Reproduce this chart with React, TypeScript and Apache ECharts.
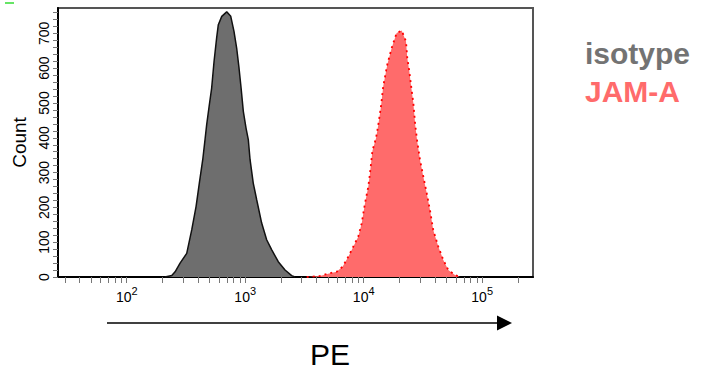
import React, { useEffect, useRef } from "react";
import * as echarts from "echarts";

// PE intensity (bin centre) and event counts for each stained sample
const isotypePE = [
  210, 240, 256, 282, 321, 354, 385, 410, 438, 458, 473, 498, 521, 546, 574, 593,
  634, 698, 755, 804, 847, 887, 923, 964, 1016, 1062, 1099, 1169, 1250, 1377, 1517,
  1675, 1901, 2168, 2466, 2630,
];
const isotypeCount = [
  0, 4, 15, 40, 68, 136, 203, 270, 337, 395, 438, 495, 543, 620, 687, 725,
  749, 762, 749, 706, 658, 600, 543, 476, 428, 395, 337, 270, 222, 155, 107,
  78, 44, 20, 4, 0,
];

const jamaPE = [
  3304, 4276, 5200, 5916, 6653, 7413, 8166, 8995, 9616, 10256, 10940, 11298, 11858,
  12706, 13274, 13996, 14622, 15812, 17219, 18967, 20941, 22751, 23335, 24266, 25061,
  26242, 27227, 28314, 29309, 29854, 31842, 34041, 36224, 38637, 42658, 46989, 51761,
  58884, 64863,
];
const jamaCount = [
  0, 3, 11, 15, 30, 58, 87, 116, 154, 212, 260, 298, 363,
  399, 437, 490, 548, 610, 658, 701, 708, 677, 629, 591, 552,
  500, 437, 389, 356, 337, 289, 241, 193, 135, 87, 49, 20,
  6, 0,
];

// Axis: decades shown as labels, intermediate decade steps as minor ticks
const decadeTicks = [100, 1000, 10000, 100000];
const minorPE = [
  30, 40, 50, 60, 70, 80, 90,
  200, 300, 400, 500, 600, 700, 800, 900,
  2000, 3000, 4000, 5000, 6000, 7000, 8000, 9000,
  20000, 30000, 40000, 50000, 60000, 70000, 80000, 90000,
  200000,
];
const countLabels = [0, 100, 200, 300, 400, 500, 600, 700];
const countTicks = Array.from({ length: 39 }, (_, i) => i * 20);

const PE_MIN = 26.3;
const PE_MAX = 268500;
const COUNT_MAX = 773;

const FONT = "Liberation Sans, Arial, sans-serif";

const toSeries = (pe: number[], counts: number[]) =>
  pe.map((v, i) => [Math.log10(v), counts[i]]);

export default function App() {
  const ref = useRef<HTMLDivElement>(null);

  useEffect(() => {
    if (!ref.current) return;
    const chart = echarts.init(ref.current, undefined, { renderer: "svg" });
    const lo = Math.log10(PE_MIN);
    const hi = Math.log10(PE_MAX);

    chart.setOption({
      animation: false,
      grid: {
        left: 58,
        top: 8,
        right: 168,
        bottom: 96,
        show: true,
        borderColor: "#555",
        borderWidth: 2,
        backgroundColor: "#fff",
      },
      xAxis: [
        {
          type: "value",
          min: lo,
          max: hi,
          position: "bottom",
          splitLine: { show: false },
          axisLine: { show: true, onZero: false, lineStyle: { color: "#000", width: 2 } },
          axisTick: {
            show: true,
            customValues: decadeTicks.map((v) => Math.log10(v)),
            length: 6,
            lineStyle: { color: "#777", width: 1 },
          },
          axisLabel: {
            customValues: decadeTicks.map((v) => Math.log10(v)),
            margin: 8,
            formatter: (v: number) => `{b|10}{s|${Math.round(v)}}`,
            rich: {
              b: { fontSize: 14, fontFamily: FONT, color: "#000", lineHeight: 19, verticalAlign: "bottom" },
              s: { fontSize: 11, fontFamily: FONT, color: "#000", lineHeight: 11, verticalAlign: "top" },
            },
          },
        },
        {
          type: "value",
          min: lo,
          max: hi,
          position: "bottom",
          splitLine: { show: false },
          axisLine: { show: false },
          axisLabel: { show: false },
          axisTick: {
            show: true,
            customValues: minorPE.map((v) => Math.log10(v)),
            length: 6,
            lineStyle: { color: "#777", width: 1 },
          },
        },
      ],
      yAxis: {
        type: "value",
        min: 0,
        max: COUNT_MAX,
        name: "Count",
        nameLocation: "middle",
        nameGap: 27,
        nameTextStyle: { fontSize: 19, fontFamily: FONT, color: "#000" },
        splitLine: { show: false },
        axisLine: { show: true, lineStyle: { color: "#000", width: 2 } },
        axisTick: {
          show: true,
          customValues: countTicks,
          length: 5,
          lineStyle: { color: "#777", width: 1 },
        },
        axisLabel: {
          customValues: countLabels,
          rotate: 90,
          margin: 7,
          fontSize: 14,
          fontFamily: FONT,
          color: "#000",
        },
      },
      series: [
        {
          name: "isotype",
          type: "line",
          xAxisIndex: 0,
          data: toSeries(isotypePE, isotypeCount),
          showSymbol: false,
          smooth: false,
          lineStyle: { color: "#111", width: 1.5 },
          areaStyle: { color: "#6e6e6e", opacity: 1 },
          z: 3,
        },
        {
          name: "JAM-A",
          type: "line",
          xAxisIndex: 0,
          data: toSeries(jamaPE, jamaCount),
          showSymbol: false,
          smooth: false,
          lineStyle: { color: "#ff0000", width: 1.8, type: [2, 4] },
          areaStyle: { color: "#ff6b6b", opacity: 1 },
          z: 3,
        },
      ],
      graphic: [
        {
          type: "line",
          shape: { x1: 5, y1: 3, x2: 14, y2: 3 },
          style: { stroke: "#33dd33", lineWidth: 1.5 },
        },
        {
          type: "text",
          x: 585,
          y: 53,
          style: {
            text: "isotype",
            fontSize: 30,
            fontWeight: "bold",
            fontFamily: FONT,
            fill: "#737373",
            verticalAlign: "middle",
          },
        },
        {
          type: "text",
          x: 585,
          y: 91,
          style: {
            text: "JAM-A",
            fontSize: 30,
            fontWeight: "bold",
            fontFamily: FONT,
            fill: "#ff6b6b",
            verticalAlign: "middle",
          },
        },
        {
          type: "line",
          shape: { x1: 107, y1: 323, x2: 500, y2: 323 },
          style: { stroke: "#000", lineWidth: 1.5 },
        },
        {
          type: "polygon",
          shape: { points: [[497, 315.5], [512, 323], [497, 330.5]] },
          style: { fill: "#000" },
        },
        {
          type: "text",
          x: 330,
          y: 354,
          style: {
            text: "PE",
            fontSize: 30,
            fontFamily: FONT,
            fill: "#000",
            align: "center",
            verticalAlign: "middle",
          },
        },
      ],
    });

    return () => chart.dispose();
  }, []);

  return (
    <div
      ref={ref}
      style={{ position: "fixed", left: 0, top: 0, width: 701, height: 373, background: "#fff" }}
    />
  );
}
